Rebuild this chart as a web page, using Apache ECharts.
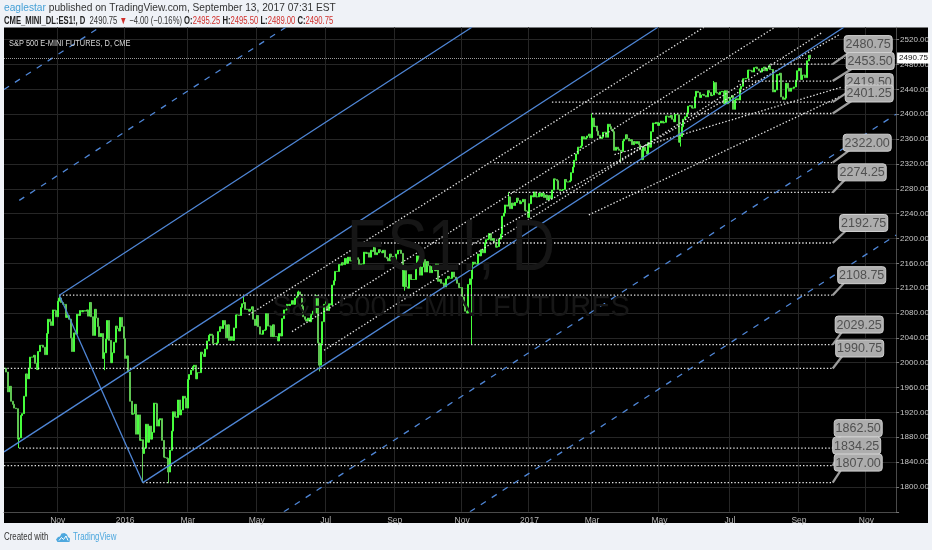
<!DOCTYPE html>
<html>
<head>
<meta charset="utf-8">
<title>ES1!, D</title>
<script src="https://cdn.jsdelivr.net/npm/echarts@6/dist/echarts.min.js"></script>
<style>
html, body { margin: 0; padding: 0; background: #eff2f7; }
#chart { width: 932px; height: 550px; }
</style>
</head>
<body>
<div id="chart"></div>
<script>
// daily closes of the ES continuous contract (one row per month)
var closes2015 = [
  1991, 1985, 1953, 1962, 1938, 1933, 1927, 1926, 1877, 1879, 1915,
  1918, 1946, 1982, 1974, 1991, 2009, 2009, 2012, 1999, 1989, 2018, 2028, 2028, 2025, 2013, 2047, 2070, 2066, 2060, 2085, 2084, 2074,
  2099, 2104, 2097, 2094, 2094, 2073, 2076, 2070, 2040, 2018, 2048, 2046, 2078, 2076, 2084, 2082, 2084, 2083, 2085, 2075,
  2097, 2074, 2044, 2086, 2072, 2058, 2042, 2047, 2007, 2016, 2038, 2068, 2036, 2000, 2016, 2033, 2059, 2055, 2051, 2073, 2058, 2039
];
var closes2016 = [
  2007, 2011, 1985, 1938, 1917, 1918, 1933, 1885, 1916, 1875, 1876, 1854, 1863, 1901, 1872, 1898, 1877, 1888, 1935,
  1934, 1898, 1908, 1910, 1875, 1848, 1847, 1846, 1824, 1859, 1890, 1921, 1913, 1912, 1940, 1916, 1924, 1946, 1943, 1927,
  1973, 1981, 1988, 1994, 1996, 1974, 1984, 1984, 2017, 2014, 2010, 2022, 2035, 2044, 2046, 2044, 2031, 2030, 2032, 2050, 2058, 2055,
  2068, 2061, 2040, 2061, 2036, 2042, 2036, 2056, 2077, 2077, 2076, 2089, 2095, 2097, 2086, 2086, 2083, 2086, 2090, 2070, 2060,
  2076, 2058, 2046, 2046, 2052, 2053, 2079, 2059, 2059, 2042, 2061, 2042, 2042, 2035, 2047, 2043, 2071, 2085, 2085, 2094, 2092,
  2094, 2100, 2094, 2104, 2107, 2114, 2110, 2091, 2074, 2070, 2067, 2072, 2066, 2078, 2083, 2080, 2108, 2032, 1996, 2031, 2066, 2094,
  2098, 2084, 2095, 2093, 2125, 2132, 2147, 2147, 2158, 2157, 2161, 2158, 2168, 2160, 2170, 2164, 2164, 2162, 2165, 2169,
  2166, 2152, 2159, 2159, 2178, 2176, 2177, 2170, 2181, 2179, 2185, 2174, 2177, 2182, 2179, 2177, 2181, 2170, 2168, 2164, 2175, 2171, 2166,
  2166, 2175, 2181, 2181, 2176, 2123, 2154, 2122, 2120, 2142, 2134, 2134, 2134, 2158, 2172, 2160, 2141, 2154, 2166, 2146, 2163,
  2156, 2145, 2155, 2155, 2148, 2159, 2131, 2134, 2128, 2128, 2122, 2135, 2139, 2136, 2136, 2146, 2138, 2134, 2128, 2121, 2121,
  2106, 2092, 2083, 2080, 2126, 2135, 2158, 2162, 2159, 2159, 2175, 2172, 2182, 2177, 2193, 2198, 2199, 2208, 2197, 2200, 2194,
  2186, 2187, 2199, 2207, 2236, 2241, 2254, 2252, 2267, 2248, 2257, 2253, 2258, 2265, 2261, 2256, 2259, 2263, 2245, 2244, 2234
];
var closes2017 = [
  2256, 2269, 2267, 2275, 2267, 2267, 2273, 2268, 2273, 2266, 2270, 2262, 2269, 2264, 2278, 2296, 2295, 2293, 2279, 2277,
  2278, 2279, 2295, 2291, 2291, 2293, 2306, 2315, 2326, 2336, 2347, 2346, 2349, 2364, 2360, 2362, 2365, 2368, 2362,
  2394, 2380, 2381, 2373, 2366, 2361, 2363, 2371, 2371, 2363, 2384, 2380, 2376, 2372, 2342, 2347, 2344, 2342, 2340, 2357, 2360, 2367, 2361,
  2357, 2359, 2351, 2356, 2353, 2356, 2351, 2343, 2327, 2347, 2341, 2336, 2354, 2347, 2372, 2386, 2385, 2387, 2382,
  2386, 2389, 2386, 2387, 2397, 2397, 2395, 2398, 2392, 2388, 2400, 2399, 2355, 2364, 2380, 2392, 2396, 2402, 2413, 2414, 2410, 2410,
  2428, 2437, 2435, 2427, 2431, 2432, 2430, 2428, 2438, 2435, 2430, 2431, 2451, 2435, 2434, 2432, 2436, 2437, 2417, 2438, 2417, 2421,
  2427, 2430, 2408, 2423, 2425, 2423, 2441, 2445, 2457, 2457, 2458, 2471, 2471, 2470, 2468, 2475, 2476, 2473, 2470, 2468,
  2474, 2476, 2470, 2474, 2478, 2472, 2472, 2436, 2439, 2464, 2463, 2466, 2428, 2424, 2426, 2450, 2442, 2437, 2442, 2442, 2444, 2455, 2470,
  2474, 2456, 2463, 2463, 2459, 2486, 2494.75, 2490.75
];
// intraday extremes that stick out of the bodies
var wickLows = {
  '2015-09-29': 1862.5, '2015-12-14': 1988, '2016-01-20': 1807, '2016-02-11': 1806,
  '2016-06-27': 1986, '2016-09-12': 2116, '2016-11-09': 2028.5, '2017-03-27': 2322,
  '2017-05-18': 2348, '2017-09-13': 2489
};
var wickHighs = {
  '2015-11-03': 2108.75, '2016-04-20': 2106, '2016-06-08': 2116, '2016-06-23': 2110,
  '2016-08-15': 2192.75, '2016-12-13': 2274.25, '2017-03-01': 2401.25, '2017-06-19': 2453.5,
  '2017-08-08': 2480.75, '2017-09-13': 2495.5
};
var lastBar = { o: 2495.25, h: 2495.50, l: 2489.00, c: 2490.75 };

var holidays = ['2015-11-26', '2015-12-25', '2016-01-01', '2016-01-18', '2016-02-15', '2016-03-25',
  '2016-05-30', '2016-07-04', '2016-09-05', '2016-11-24', '2016-12-26', '2017-01-02', '2017-01-16',
  '2017-02-20', '2017-04-14', '2017-05-29', '2017-07-04', '2017-09-04', '2017-11-23'];
var firstDay = '2015-09-16';
var barCount = 556;  // includes the empty future bars up to late Nov 2017

// horizontal levels with their callouts (start bar index, price)
var levelPrices = [2480.75, 2453.50, 2419.50, 2401.25, 2322.00, 2274.25, 2192.75, 2108.75, 2029.25, 1990.75, 1862.50, 1834.25, 1807.00];
var levelFrom = [477, 457, 341, 366, 305, 314, 230, 34, 102, -5, 9, -5, 86];
var levelTo = 516;

// channel drawn from the Nov 2015 top and the Jan 2016 low: [bar1, price1, bar2, price2]
var channelSolid = [
  [34, 2108.75, 86, 1807],
  [34, 2108.75, 560, 2991.1],
  [-10, 1840.5, 560, 2796.6],
  [86, 1807, 560, 2602.1]
];
var channelDashed = [
  [-10, 2424, 560, 3380],
  [9, 2261.3, 560, 3185.6],
  [86, 1612.5, 560, 2407.6],
  [86, 1418, 560, 2213.1]
];
var fanDotted = [
  [152, 2077, 440, 2547],
  [179, 2050, 480, 2540],
  [199, 2020, 509, 2531],
  [289, 2187, 520, 2528],
  [380, 2335, 522, 2444],
  [364, 2238, 521, 2429]
];

var monthNames = ['Jan', 'Feb', 'Mar', 'Apr', 'May', 'Jun', 'Jul', 'Aug', 'Sep', 'Oct', 'Nov', 'Dec'];
var sans = "'Liberation Sans', Arial, sans-serif";
var calloutDx = [35.5, 37.5, 36.5, 36.5, 34.5, 29.5, 31, 29, 26.5, 27, 25.5, 24, 25.5];

// trading days
var dates = [];
(function () {
  var d = new Date(firstDay + 'T00:00:00Z');
  while (dates.length < barCount) {
    var wd = d.getUTCDay(), s = d.toISOString().slice(0, 10);
    if (wd !== 0 && wd !== 6 && holidays.indexOf(s) < 0) dates.push(s);
    d.setUTCDate(d.getUTCDate() + 1);
  }
})();

var closes = closes2015.concat(closes2016, closes2017);
var candles = closes.map(function (c, i) {
  var o = i ? closes[i - 1] : c;
  if (i === closes.length - 1) o = lastBar.o;
  var lo = Math.min(o, c), hi = Math.max(o, c);
  var d = dates[i];
  if (wickLows[d] != null) lo = Math.min(lo, wickLows[d]);
  if (wickHighs[d] != null) hi = Math.max(hi, wickHighs[d]);
  return [o, c, lo, hi];
});

function isMonthTick(i) {
  if (i <= 0) return false;
  var m = +dates[i].slice(5, 7), pm = +dates[i - 1].slice(5, 7);
  return m !== pm && m % 2 === 1;
}

function clipSeg(x1, y1, x2, y2, r) {
  var t0 = 0, t1 = 1, dx = x2 - x1, dy = y2 - y1;
  var p = [-dx, dx, -dy, dy];
  var q = [x1 - r.x, r.x + r.width - x1, y1 - r.y, r.y + r.height - y1];
  for (var k = 0; k < 4; k++) {
    if (p[k] === 0) { if (q[k] < 0) return null; continue; }
    var t = q[k] / p[k];
    if (p[k] < 0) { if (t > t1) return null; if (t > t0) t0 = t; }
    else { if (t < t0) return null; if (t < t1) t1 = t; }
  }
  return [x1 + t0 * dx, y1 + t0 * dy, x1 + t1 * dx, y1 + t1 * dy];
}

function segmentSeries(segs, style, z) {
  return {
    type: 'custom', silent: true, clip: true, z: z,
    data: segs,
    renderItem: function (params, api) {
      var a = api.coord([api.value(0), api.value(1)]);
      var b = api.coord([api.value(2), api.value(3)]);
      var s = clipSeg(a[0], a[1], b[0], b[1], params.coordSys);
      if (!s) return null;
      return { type: 'line', shape: { x1: s[0], y1: s[1], x2: s[2], y2: s[3] }, style: style };
    }
  };
}

// squeezed text, TradingView uses a condensed face
function squeezed(text, x, y, size, color, sx, extra) {
  var st = { text: text, x: 0, y: 0, verticalAlign: 'middle', font: size + 'px ' + sans, fill: color };
  for (var key in (extra || {})) st[key] = extra[key];
  return { type: 'text', z: 20, x: x, y: y, scaleX: sx, style: st };
}

var prevClose = closes[closes.length - 2];
var chg = lastBar.c - prevClose;
var chgPct = chg / prevClose * 100;
var header2 = '{k|CME_MINI_DL:ES1!, D}  {v|' + lastBar.c.toFixed(2) + '} {r|\u25BC} {v|\u2212' + Math.abs(chg).toFixed(2) +
  ' (\u2212' + Math.abs(chgPct).toFixed(2) + '%)} {k|O:}{r|' + lastBar.o.toFixed(2) + '} {k|H:}{r|' + lastBar.h.toFixed(2) +
  '} {k|L:}{r|' + lastBar.l.toFixed(2) + '} {k|C:}{r|' + lastBar.c.toFixed(2) + '}';

var myChart = echarts.init(document.getElementById('chart'));
var option = {
  animation: false,
  backgroundColor: '#eff2f7',
  graphic: [
    { type: 'rect', z: -10, shape: { x: 4, y: 27.5, width: 924, height: 495.5 }, style: { fill: '#000' } },
    squeezed('ES1!, D', 451, 250, 72, '#161616', 0.84, { align: 'center' }),
    squeezed('S&P 500 E-MINI FUTURES', 451, 308, 29, '#171717', 1, { align: 'center' }),
    squeezed('S&P 500 E-MINI FUTURES, D, CME', 9, 43, 9.5, '#d8d8d8', 0.78),
    squeezed('{b|eaglestar}{t| published on TradingView.com, September 13, 2017 07:31 EST}', 4, 8, 10.5, '#333', 0.97, {
      rich: { b: { fill: '#45a0d6', font: '10.5px ' + sans }, t: { fill: '#333', font: '10.5px ' + sans } } }),
    squeezed(header2, 4, 21, 10.5, '#333', 0.73, {
      rich: {
        k: { fill: '#222', font: 'bold 10.5px ' + sans },
        v: { fill: '#333', font: '10.5px ' + sans },
        r: { fill: '#d0302c', font: '10.5px ' + sans }
      } }),
    squeezed('Created with', 4, 537, 10, '#333', 0.79),
    { type: 'polygon', z: 20, shape: { points: [[57.5, 542], [56, 539.5], [58, 537], [60, 536.5], [61.5, 533.5],
        [64.5, 533], [67, 534.5], [68, 537], [70, 538.5], [69.5, 542]] }, style: { fill: '#4ea8de' } },
    { type: 'polyline', z: 21, shape: { points: [[59, 540.5], [61.5, 537.5], [63.5, 539.5], [66, 536], [68, 540.5]] },
        style: { stroke: '#fff', lineWidth: 1, fill: null } },
    squeezed('TradingView', 73, 537, 10, '#4ea8de', 0.79)
  ],
  grid: { left: 4, right: 34, top: 27.3, bottom: 38.2 },
  xAxis: {
    type: 'category',
    data: dates,
    boundaryGap: true,
    axisLine: { show: true, lineStyle: { color: '#4a4a4a' } },
    axisTick: { show: false },
    axisLabel: {
      color: '#b8b8b8', fontSize: 8.5, margin: 4,
      interval: function (index) { return isMonthTick(index); },
      formatter: function (value) {
        var m = +value.slice(5, 7);
        return m === 1 ? value.slice(0, 4) : monthNames[m - 1];
      }
    },
    splitLine: {
      show: true,
      interval: function (index) { return isMonthTick(index); },
      lineStyle: { color: '#262626', width: 1 }
    }
  },
  yAxis: {
    type: 'value', position: 'right',
    min: 1760, max: 2540, interval: 40,
    axisLine: { show: true, lineStyle: { color: '#4a4a4a' } },
    axisTick: { show: true, length: 3, lineStyle: { color: '#777' } },
    axisLabel: {
      color: '#c8c8c8', fontSize: 8, margin: 4,
      formatter: function (v) { return (v === 1760 || v === 2540) ? '' : v.toFixed(2); }
    },
    splitLine: { show: true, showMinLine: false, showMaxLine: false, lineStyle: { color: '#262626', width: 1 } }
  },
  series: [
    {
      type: 'candlestick',
      data: candles,
      barWidth: 1.5,
      z: 2,
      itemStyle: {
        color: '#46ff3c', color0: '#5fc452',
        borderColor: '#46ff3c', borderColor0: '#5fc452', borderWidth: 1
      },
      markLine: {
        silent: true, symbol: ['none', 'none'], animation: false,
        data: [{ yAxis: lastBar.c }],
        lineStyle: { color: '#9a9a9a', type: [1, 1], width: 1 },
        label: {
          show: true, position: 'end', distance: 1,
          formatter: lastBar.c.toFixed(2),
          color: '#111', backgroundColor: '#fff', padding: [2, 2, 1, 2], fontSize: 8
        }
      }
    },
    segmentSeries(levelPrices.map(function (p, k) { return [levelFrom[k], p, levelTo, p]; }),
      { stroke: '#e4e4e4', lineWidth: 1.3, lineDash: [1.4, 2] }, 3),
    segmentSeries(fanDotted, { stroke: '#e4e4e4', lineWidth: 1.3, lineDash: [1.4, 2] }, 3),
    segmentSeries(channelDashed, { stroke: '#4f86d6', lineWidth: 1.3, lineDash: [6, 7] }, 4),
    segmentSeries(channelSolid, { stroke: '#4f86d6', lineWidth: 1.3 }, 4),
    {
      type: 'custom', silent: true, z: 6,
      data: levelPrices.map(function (p, k) { return [levelTo, p, k]; }),
      renderItem: function (params, api) {
        var k = api.value(2);
        var pt = api.coord([api.value(0), api.value(1)]);
        var cx = pt[0] + calloutDx[k], cy = pt[1] - 20;
        return {
          type: 'group',
          children: [
            { type: 'line', shape: { x1: pt[0], y1: pt[1], x2: cx - 17, y2: cy + 7 },
              style: { stroke: '#9d9d9d', lineWidth: 2.2 } },
            { type: 'rect', shape: { x: cx - 24, y: cy - 8.5, width: 48, height: 17, r: 3 },
              style: { fill: '#adadad', stroke: '#d0d0d0', lineWidth: 1 } },
            { type: 'text', style: { text: levelPrices[k].toFixed(2), x: cx, y: cy + 0.5, align: 'center',
              verticalAlign: 'middle', font: '12.5px ' + sans, fill: '#505050' } }
          ]
        };
      }
    }
  ]
};
myChart.setOption(option);
</script>
</body>
</html>
